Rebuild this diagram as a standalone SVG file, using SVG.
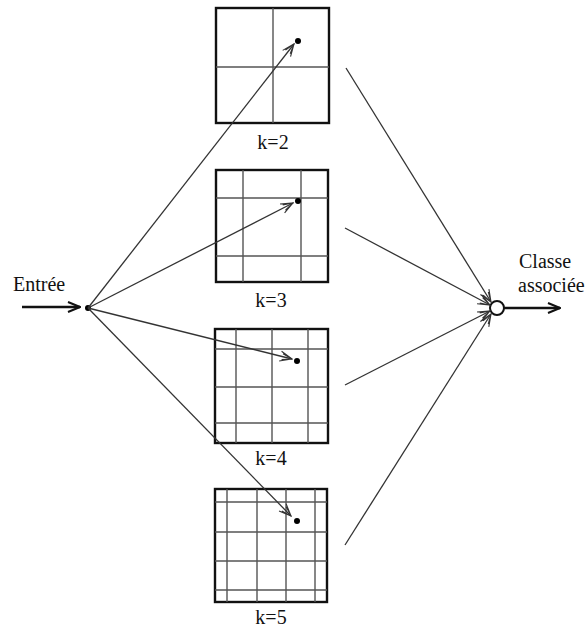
<svg xmlns="http://www.w3.org/2000/svg" width="588" height="628" viewBox="0 0 588 628">
<style>
.box{fill:none;stroke:#111;stroke-width:2.4}
.grid{stroke:#555;stroke-width:1.4;fill:none}
.lbl{font-family:"Liberation Serif","Times New Roman",serif;font-size:20px;fill:#111}
.conn{stroke:#333;stroke-width:1.3;fill:none}
.dot{fill:#000}
</style>
<defs>
<marker id="open" markerWidth="14" markerHeight="12" refX="13" refY="6" orient="auto" markerUnits="userSpaceOnUse">
<path d="M1,1 L13,6 L1,11 M3,3 L13,6 L3,9" fill="none" stroke="#333" stroke-width="1.1"/>
</marker>
<marker id="solid" markerWidth="14" markerHeight="12" refX="13" refY="6" orient="auto" markerUnits="userSpaceOnUse">
<path d="M1,1 L13,6 L1,11" fill="none" stroke="#111" stroke-width="2"/>
</marker>
</defs>
<g id="k2">
<rect class="box" x="216" y="8" width="113" height="115"/>
<path class="grid" d="M273,8V123M216,67H329"/>
<circle class="dot" cx="298" cy="41" r="3"/>
<text class="lbl" x="273" y="149" text-anchor="middle">k=2</text>
</g>
<g id="k3">
<rect class="box" x="216" y="170" width="112" height="112"/>
<path class="grid" d="M243,170V282M301,170V282M216,198H328M216,256H328"/>
<circle class="dot" cx="298" cy="201" r="3"/>
<text class="lbl" x="271" y="307" text-anchor="middle">k=3</text>
</g>
<g id="k4">
<rect class="box" x="215" y="329" width="113" height="114"/>
<path class="grid" d="M236,329V443M272,329V443M308,329V443M215,349H328M215,387H328M215,423H328"/>
<circle class="dot" cx="297" cy="361" r="3"/>
<text class="lbl" x="271" y="465" text-anchor="middle">k=4</text>
</g>
<g id="k5">
<rect class="box" x="215" y="489" width="112" height="113"/>
<path class="grid" d="M227,489V602M257,489V602M286,489V602M315,489V602M215,502H327M215,532H327M215,561H327M215,590H327"/>
<circle class="dot" cx="297" cy="521" r="3"/>
<text class="lbl" x="271" y="624" text-anchor="middle">k=5</text>
</g>
<g id="entree">
<text class="lbl" x="13" y="291">Entrée</text>
<circle class="dot" cx="88" cy="308" r="3"/>
</g>
<g id="sortie">
<circle cx="497" cy="308" r="7" fill="#fff" stroke="#111" stroke-width="2"/>
<text class="lbl" x="519" y="268">Classe</text>
<text class="lbl" x="518" y="292">associée</text>
</g>
<g id="connectors">
<line x1="22" y1="307" x2="80" y2="307" stroke="#111" stroke-width="2.4" marker-end="url(#solid)"/>
<line x1="504" y1="308" x2="560" y2="308" stroke="#111" stroke-width="2.4" marker-end="url(#solid)"/>
<line class="conn" x1="88" y1="308" x2="294" y2="44" marker-end="url(#open)"/>
<line class="conn" x1="88" y1="308" x2="293" y2="203" marker-end="url(#open)"/>
<line class="conn" x1="88" y1="308" x2="292" y2="359" marker-end="url(#open)"/>
<line class="conn" x1="88" y1="308" x2="291" y2="516" marker-end="url(#open)"/>
<line class="conn" x1="346" y1="68" x2="491" y2="302" marker-end="url(#open)"/>
<line class="conn" x1="345" y1="228" x2="490" y2="305" marker-end="url(#open)"/>
<line class="conn" x1="345" y1="385" x2="490" y2="311" marker-end="url(#open)"/>
<line class="conn" x1="345" y1="545" x2="491" y2="314" marker-end="url(#open)"/>
</g>
</svg>
